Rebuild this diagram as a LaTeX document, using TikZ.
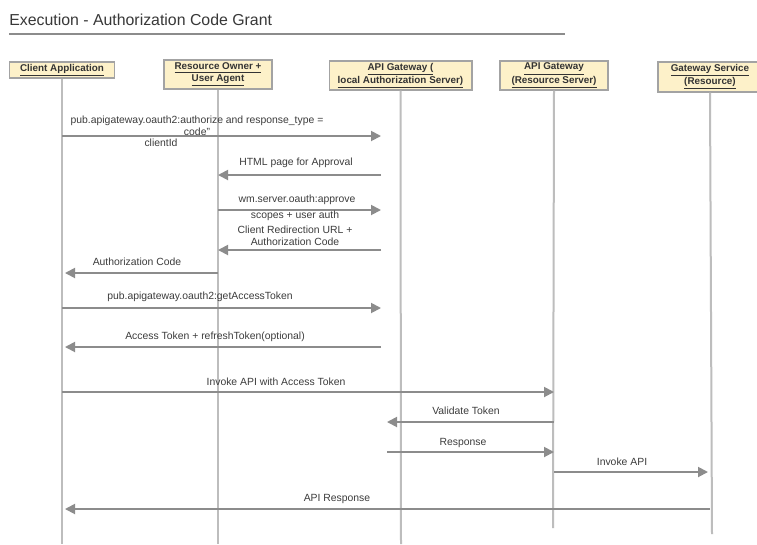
\documentclass[tikz,border=0pt]{standalone}
\usepackage{fontspec}
\setmainfont{Liberation Sans}
\usetikzlibrary{arrows.meta,positioning}

\definecolor{boxfill}{HTML}{FDF1C9}
\definecolor{boxline}{HTML}{A3A3A3}
\definecolor{lifegray}{HTML}{BDBDBD}
\definecolor{msggray}{HTML}{8C8C8C}
\definecolor{msgtext}{HTML}{3C3C3C}

\begin{document}
\begin{tikzpicture}[
  x=0.75pt, y=-0.75pt,
  actor/.style={draw=boxline, line width=1pt, fill=boxfill, inner sep=1pt, font=\fontsize{7.4}{8.6}\selectfont\bfseries, text=black!80, align=center},
  life/.style={draw=lifegray, line width=1.5pt},
  msg/.style={draw=msggray, line width=1.4pt, -{Triangle[length=7.5pt,width=7.5pt]}},
  lbl/.style={font=\fontsize{7.8}{9}\selectfont, text=msgtext, inner sep=0pt, align=center},
]
\useasboundingbox (0,0) rectangle (757,544);
\fill[white] (0,0) rectangle (757,544);

% heading and rule
\node[anchor=west, inner sep=0pt, font=\fontsize{11.9}{14}\selectfont, text=black!78] (title) at (9,20) {Execution - Authorization Code Grant};
\coordinate (rule-l) at (9,34);
\coordinate (rule-r) at (565,34);
\draw[draw=black!45, line width=1.3pt] (rule-l) -- (rule-r);

% participants
\node[actor, minimum width=78.75pt, minimum height=12pt] (client) at (62,70) {\underline{Client Application}};
\node[actor, minimum width=81pt, minimum height=21.75pt] (owner) at (218,74.5) {\underline{Resource Owner +}\\\underline{User Agent}};
\node[actor, minimum width=107pt, minimum height=21.75pt] (authsrv) at (400.5,75.5) {\underline{API Gateway (}\\\underline{local Authorization Server)}};
\node[actor, minimum width=81pt, minimum height=21.75pt] (ressrv) at (554,75.5) {\underline{API Gateway}\\\underline{(Resource Server)}};
\node[actor, minimum width=78pt, minimum height=22.5pt] (gwsvc) at (710,77) {\underline{Gateway Service}\\\underline{(Resource)}};

% lifelines
\coordinate (client-end) at (62,544);
\coordinate (owner-end) at (218,544);
\coordinate (authsrv-end) at (401,544);
\coordinate (ressrv-end) at (553,528);
\coordinate (gwsvc-end) at (712,534);
\foreach \p in {client,owner,authsrv,ressrv,gwsvc}
  \draw[life] (\p.south) -- (\p-end);

% where the messages meet the lifelines
\coordinate (authport) at (381,0);
\coordinate (authtok) at (387,0);
\coordinate (clientin) at (65,0);
\coordinate (gwsvcin) at (708,0);

% authorization code flow
\draw[msg] (client |- 0,136) -- (authport |- 0,136);
\node[lbl] (m-authorize) at (197,126) {pub.apigateway.oauth2:authorize and response\_type =\\code"};
\node[lbl] (m-clientid) at (161,143) {clientId};

\draw[msg] (authport |- 0,175) -- (owner |- 0,175);
\node[lbl] (m-approval) at (296,163) {HTML page for Approval};

\draw[msg] (owner |- 0,210) -- (authport |- 0,210);
\node[lbl] (m-approve) at (297,200) {wm.server.oauth:approve};
\node[lbl] (m-scopes) at (295,216) {scopes + user auth};

\draw[msg] (authport |- 0,250) -- (owner |- 0,250);
\node[lbl] (m-redirect) at (295,235.5) {Client Redirection URL +\\Authorization Code};

\draw[msg] (owner |- 0,273) -- (clientin |- 0,273);
\node[lbl] (m-code) at (137,262) {Authorization Code};

\draw[msg] (client |- 0,308) -- (authport |- 0,308);
\node[lbl] (m-gettoken) at (200,297) {pub.apigateway.oauth2:getAccessToken};

\draw[msg] (authport |- 0,347) -- (clientin |- 0,347);
\node[lbl] (m-token) at (215,337) {Access Token + refreshToken(optional)};

% calling the protected API
\draw[msg] (client |- 0,392) -- (ressrv |- 0,392);
\node[lbl] (m-invoke) at (276,382) {Invoke API with Access Token};

\draw[msg] (ressrv |- 0,422) -- (authtok |- 0,422);
\node[lbl] (m-validate) at (466,411) {Validate Token};

\draw[msg] (authtok |- 0,452) -- (ressrv |- 0,452);
\node[lbl] (m-response) at (463,443) {Response};

\draw[msg] (ressrv |- 0,472) -- (gwsvcin |- 0,472);
\node[lbl] (m-api) at (622,462) {Invoke API};

\draw[msg] (gwsvc |- 0,509) -- (clientin |- 0,509);
\node[lbl] (m-apiresp) at (337,499) {API Response};
\end{tikzpicture}
\end{document}
